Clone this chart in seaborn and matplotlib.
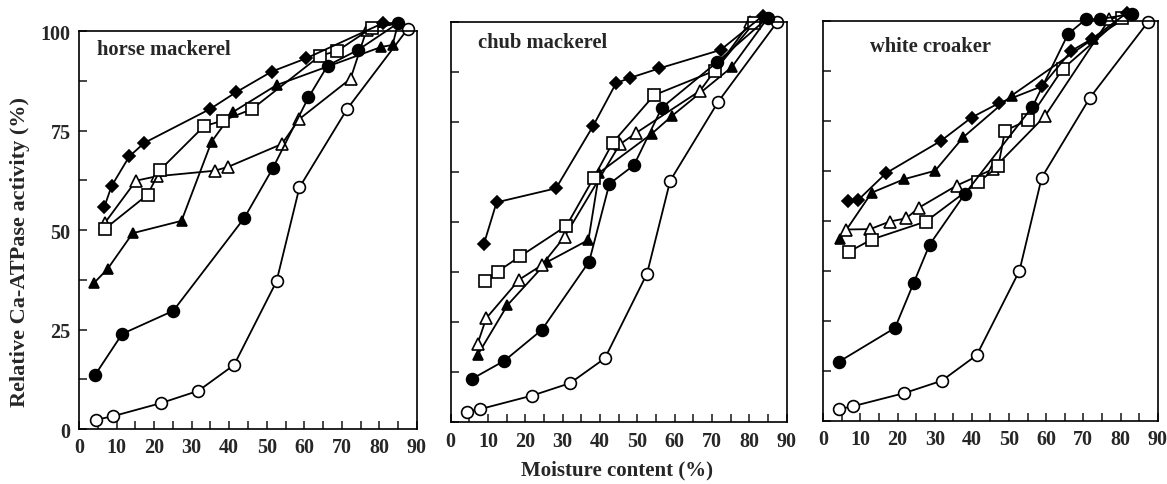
import matplotlib
matplotlib.use("Agg")
import matplotlib.pyplot as plt
import seaborn as sns
from matplotlib.ticker import MultipleLocator

sns.set_style("ticks")
plt.rcParams['font.family'] = ['Liberation Serif', 'DejaVu Serif']
plt.rcParams['font.weight'] = 'bold'

panel_names = ['horse mackerel', 'chub mackerel', 'white croaker']
x_ticks = [0, 10, 20, 30, 40, 50, 60, 70, 80, 90]
y_ticks = [0, 25, 50, 75, 100]

# horse mackerel
hm_diamond_x = [6.7, 8.7, 13.4, 17.4, 34.9, 41.8, 51.3, 60.4, 81.0, 85.0]
hm_diamond_y = [55.7, 61.1, 68.5, 71.9, 80.4, 84.6, 89.8, 93.1, 102.0, 102.0]
hm_tri_f_x = [4.0, 7.6, 14.3, 27.3, 35.3, 41.1, 52.6, 80.5, 83.5, 85.0]
hm_tri_f_y = [36.7, 40.2, 49.2, 52.3, 72.2, 79.7, 86.4, 96.0, 96.5, 102.0]
hm_tri_o_x = [6.9, 15.2, 20.7, 36.2, 39.8, 54.0, 58.7, 72.3, 76.6, 85.0]
hm_tri_o_y = [51.8, 62.4, 63.5, 64.9, 65.9, 71.6, 77.9, 88.0, 100.3, 102.0]
hm_sq_x = [6.9, 18.3, 21.6, 33.3, 38.4, 46.1, 64.2, 68.8, 78.0, 85.0]
hm_sq_y = [50.3, 58.9, 65.1, 76.1, 77.5, 80.4, 93.8, 95.0, 100.8, 102.0]
hm_circ_f_x = [4.3, 11.5, 25.1, 44.0, 51.6, 61.1, 66.2, 74.4, 85.0]
hm_circ_f_y = [13.6, 23.9, 29.7, 53.0, 65.5, 83.3, 91.3, 95.3, 102.0]
hm_circ_o_x = [4.4, 9.0, 21.8, 31.8, 41.3, 52.6, 58.7, 71.4, 87.6]
hm_circ_o_y = [2.3, 3.2, 6.5, 9.6, 16.1, 37.1, 60.7, 80.4, 100.6]

# chub mackerel
cm_diamond_x = [8.9, 12.3, 28.2, 38.1, 44.3, 48.0, 55.9, 72.3, 83.7, 85.0]
cm_diamond_y = [44.6, 55.0, 58.5, 74.0, 84.8, 86.1, 88.5, 93.1, 101.7, 101.2]
cm_tri_f_x = [7.2, 15.2, 25.7, 36.9, 39.8, 53.8, 59.4, 75.3, 85.0]
cm_tri_f_y = [16.8, 29.3, 40.0, 45.6, 62.4, 72.1, 76.7, 88.8, 101.2]
cm_tri_o_x = [7.2, 9.5, 18.4, 24.4, 30.5, 45.3, 49.6, 66.8, 80.2, 85.0]
cm_tri_o_y = [19.6, 26.0, 35.7, 39.3, 46.4, 69.5, 72.3, 82.9, 100.0, 101.2]
cm_sq_x = [9.2, 12.6, 18.6, 31.0, 38.3, 43.4, 54.5, 70.7, 81.2, 85.0]
cm_sq_y = [35.4, 37.7, 41.5, 49.1, 61.1, 69.9, 81.8, 87.9, 99.8, 101.2]
cm_circ_f_x = [5.6, 14.4, 24.4, 37.1, 42.5, 49.1, 56.6, 71.3, 85.0]
cm_circ_f_y = [10.8, 15.4, 23.1, 40.2, 59.6, 64.3, 78.7, 90.0, 101.2]
cm_circ_o_x = [4.3, 7.9, 21.9, 32.0, 41.3, 52.6, 58.8, 71.7, 87.4]
cm_circ_o_y = [2.7, 3.3, 6.7, 9.8, 16.0, 37.2, 60.4, 80.2, 100.0]

# white croaker
wc_diamond_x = [6.6, 9.4, 16.9, 31.7, 39.9, 47.3, 58.8, 66.8, 72.2, 81.8, 83.0]
wc_diamond_y = [55.0, 55.2, 61.9, 70.0, 75.8, 79.4, 83.6, 92.5, 95.4, 102.0, 101.7]
wc_tri_f_x = [4.5, 13.0, 21.8, 30.1, 37.7, 50.7, 72.5, 83.0]
wc_tri_f_y = [45.4, 57.0, 60.4, 62.5, 70.9, 81.3, 95.4, 101.7]
wc_tri_o_x = [6.0, 12.6, 17.9, 22.3, 25.8, 35.9, 45.7, 59.7, 77.0, 83.0]
wc_tri_o_y = [47.8, 47.9, 49.8, 50.6, 53.3, 58.8, 62.9, 76.2, 100.4, 101.7]
wc_sq_x = [7.0, 13.0, 27.6, 41.7, 47.1, 48.9, 55.2, 64.4, 80.3, 83.0]
wc_sq_y = [42.3, 45.3, 49.8, 59.6, 63.6, 72.5, 75.2, 87.9, 100.8, 101.7]
wc_circ_f_x = [4.3, 19.3, 24.3, 28.6, 38.1, 56.3, 65.9, 70.7, 74.5, 83.0]
wc_circ_f_y = [14.8, 23.2, 34.4, 44.0, 56.7, 78.5, 96.7, 100.4, 100.4, 101.7]
wc_circ_o_x = [4.3, 7.9, 21.8, 31.9, 41.3, 52.8, 58.8, 71.8, 87.5]
wc_circ_o_y = [2.9, 3.6, 6.9, 10.0, 16.4, 37.5, 60.8, 80.8, 99.8]

panels = [
    [(hm_circ_o_x, hm_circ_o_y), (hm_tri_f_x, hm_tri_f_y), (hm_tri_o_x, hm_tri_o_y),
     (hm_sq_x, hm_sq_y), (hm_diamond_x, hm_diamond_y), (hm_circ_f_x, hm_circ_f_y)],
    [(cm_circ_o_x, cm_circ_o_y), (cm_tri_f_x, cm_tri_f_y), (cm_tri_o_x, cm_tri_o_y),
     (cm_sq_x, cm_sq_y), (cm_diamond_x, cm_diamond_y), (cm_circ_f_x, cm_circ_f_y)],
    [(wc_circ_o_x, wc_circ_o_y), (wc_tri_f_x, wc_tri_f_y), (wc_tri_o_x, wc_tri_o_y),
     (wc_sq_x, wc_sq_y), (wc_diamond_x, wc_diamond_y), (wc_circ_f_x, wc_circ_f_y)],
]

# marker, size, face, hide last marker (lines meet at the common end point)
styles = [
    ('o', 8.5, 'white', False),
    ('^', 7.0, 'black', True),
    ('^', 9.0, 'white', True),
    ('s', 8.5, 'white', True),
    ('D', 6.5, 'black', True),
    ('o', 8.5, 'black', False),
]

axes_pos = [
    [0.0677, 0.1134, 0.2896, 0.8206],
    [0.3862, 0.1272, 0.2879, 0.8247],
    [0.7055, 0.1305, 0.2865, 0.8247],
]
title_pos = [(0.053, 0.955), (0.081, 0.951), (0.14, 0.937)]

fig = plt.figure(figsize=(11.67, 4.85), dpi=100)

for i, series in enumerate(panels):
    ax = fig.add_axes(axes_pos[i])
    for (xs, ys), (mk, ms, face, hide_last) in zip(series, styles):
        every = list(range(len(xs) - 1)) if hide_last else None
        sns.lineplot(x=xs, y=ys, ax=ax, sort=False, estimator=None,
                     color='black', linewidth=1.3, marker=mk, markersize=ms,
                     markerfacecolor=face, markeredgecolor='black',
                     markeredgewidth=1.2, markevery=every, clip_on=False,
                     legend=False)
    ax.set_xlim(0, 90)
    ax.set_ylim(0, 100)
    ax.set_xticks(x_ticks)
    ax.xaxis.set_minor_locator(MultipleLocator(5))
    ax.set_yticks(y_ticks)
    ax.yaxis.set_minor_locator(MultipleLocator(12.5))
    ax.tick_params(axis='both', which='both', direction='in', length=6,
                   width=1.2, top=False, right=False, labelsize=14.5, pad=6)
    if i > 0:
        ax.set_yticklabels([])
    for lab in ax.get_xticklabels() + ax.get_yticklabels():
        lab.set_fontweight('bold')
    for sp in ax.spines.values():
        sp.set_linewidth(1.2)
        sp.set_color('black')
    ax.set_xlabel('')
    ax.set_ylabel('')
    ax.text(title_pos[i][0], title_pos[i][1], panel_names[i],
            transform=ax.transAxes, fontsize=14.8, fontweight='bold',
            ha='left', va='center')

fig.text(0.017, 0.48, 'Relative Ca-ATPase activity (%)', rotation=90,
         fontsize=16, fontweight='bold', ha='center', va='center')
fig.text(0.529, 0.03, 'Moisture content (%)', fontsize=15,
         fontweight='bold', ha='center', va='center')

fig.savefig('out.png', dpi=100)
